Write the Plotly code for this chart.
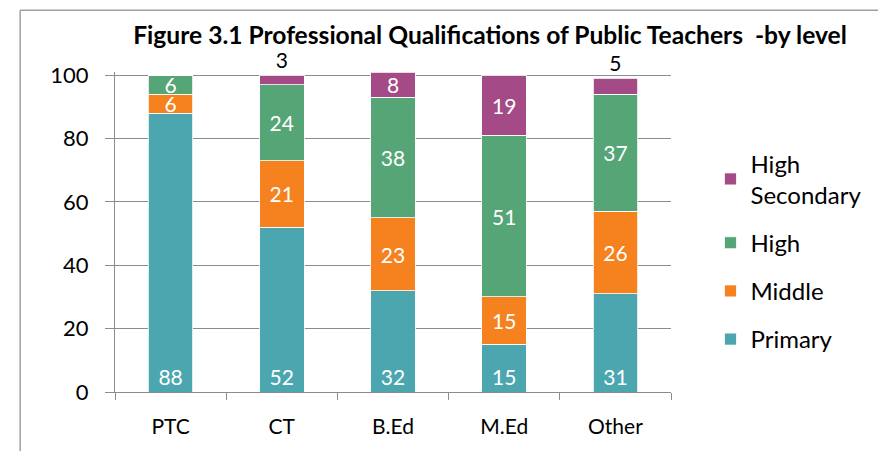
import plotly.graph_objects as go

categories = ["PTC", "CT", "B.Ed", "M.Ed", "Other"]
primary = [88, 52, 32, 15, 31]
middle = [6, 21, 23, 15, 26]
high = [6, 24, 38, 51, 37]
high_secondary = [0, 3, 8, 19, 5]
y_ticks = [0, 20, 40, 60, 80, 100]

C_PRIMARY = "#4BA6B0"
C_MIDDLE = "#F5821F"
C_HIGH = "#56A577"
C_HS = "#A44A86"
FONT = "Lato"
GRID = "#8c8c8c"
LBL = 21

Y_MAX = 101
PLOT_H = 317 * Y_MAX / 100  # plot height in px
TOP = 392 - PLOT_H

def labels(vals):
    return [str(v) if v else "" for v in vals]

SEP = dict(color="white", width=0.8)

fig = go.Figure()
fig.add_trace(go.Bar(
    x=categories, y=primary, name="Primary", marker=dict(color=C_PRIMARY, line=SEP),
    text=labels(primary), textposition="inside", insidetextanchor="start", textangle=0,
    insidetextfont=dict(color="white", size=LBL, family=FONT),
    constraintext="none", legendgroup="a", legendrank=4))
fig.add_trace(go.Bar(
    x=categories, y=middle, name="Middle", marker=dict(color=C_MIDDLE, line=SEP),
    text=labels(middle), textposition="inside", insidetextanchor="middle", textangle=0,
    insidetextfont=dict(color="white", size=LBL, family=FONT),
    constraintext="none", legendgroup="b", legendrank=3))
fig.add_trace(go.Bar(
    x=categories, y=high, name="High", marker=dict(color=C_HIGH, line=SEP),
    text=labels(high), textposition="inside", insidetextanchor="middle", textangle=0,
    insidetextfont=dict(color="white", size=LBL, family=FONT),
    constraintext="none", legendgroup="c", legendrank=2))
hs_pos = ["none" if v == 0 else ("outside" if v < 6 else "inside") for v in high_secondary]
fig.add_trace(go.Bar(
    x=categories, y=high_secondary, name="High<br>Secondary", marker=dict(color=C_HS, line=SEP),
    text=labels(high_secondary), textposition=hs_pos, insidetextanchor="middle", textangle=0,
    insidetextfont=dict(color="white", size=LBL, family=FONT),
    outsidetextfont=dict(color="black", size=LBL, family=FONT),
    constraintext="none", cliponaxis=False, legendgroup="d", legendrank=1))

fig.update_layout(
    barmode="stack", bargap=0.6,
    width=878, height=451,
    margin=dict(l=115, r=165, t=TOP, b=59),
    paper_bgcolor="white", plot_bgcolor="white",
    font=dict(family=FONT, size=21, color="black"),
    title=dict(text="<b>Figure 3.1 Professional Qualifications of Public Teachers  -by level</b>",
               font=dict(size=24.6, family=FONT, color="black"),
               x=490 / 878, xref="container", xanchor="center",
               y=1 - 35 / 451, yref="container", yanchor="middle"),
    showlegend=True,
    legend=dict(traceorder="grouped", x=1.071, xanchor="left", y=0.44, yanchor="middle",
                font=dict(size=24, family=FONT), tracegroupgap=14,
                bgcolor="rgba(0,0,0,0)"),
    yaxis=dict(range=[0, Y_MAX], tickvals=y_ticks, showgrid=True, gridcolor=GRID, gridwidth=1,
               showline=True, linecolor=GRID, linewidth=1, ticks="outside", ticklen=9,
               tickcolor=GRID, zeroline=False, tickfont=dict(size=22, family=FONT), ticklabelstandoff=12),
    xaxis=dict(showline=True, linecolor=GRID, linewidth=1, ticks="outside", tickson="boundaries",
               ticklen=7, tickcolor=GRID, tickfont=dict(size=21, family=FONT), ticklabelstandoff=16),
    shapes=[
        dict(type="line", xref="paper", yref="paper", x0=-102 / 598, x1=2,
             y0=(392 - 10) / PLOT_H, y1=(392 - 10) / PLOT_H, line=dict(color="#a0a0a0", width=1.5)),
        dict(type="line", xref="paper", yref="paper", x0=-102 / 598, x1=-102 / 598,
             y0=(392 - 10) / PLOT_H, y1=-1, line=dict(color="#a0a0a0", width=1.5)),
    ],
)

fig.write_html("out.html", config={"displayModeBar": False},
               post_script="document.body.style.margin='0';")
